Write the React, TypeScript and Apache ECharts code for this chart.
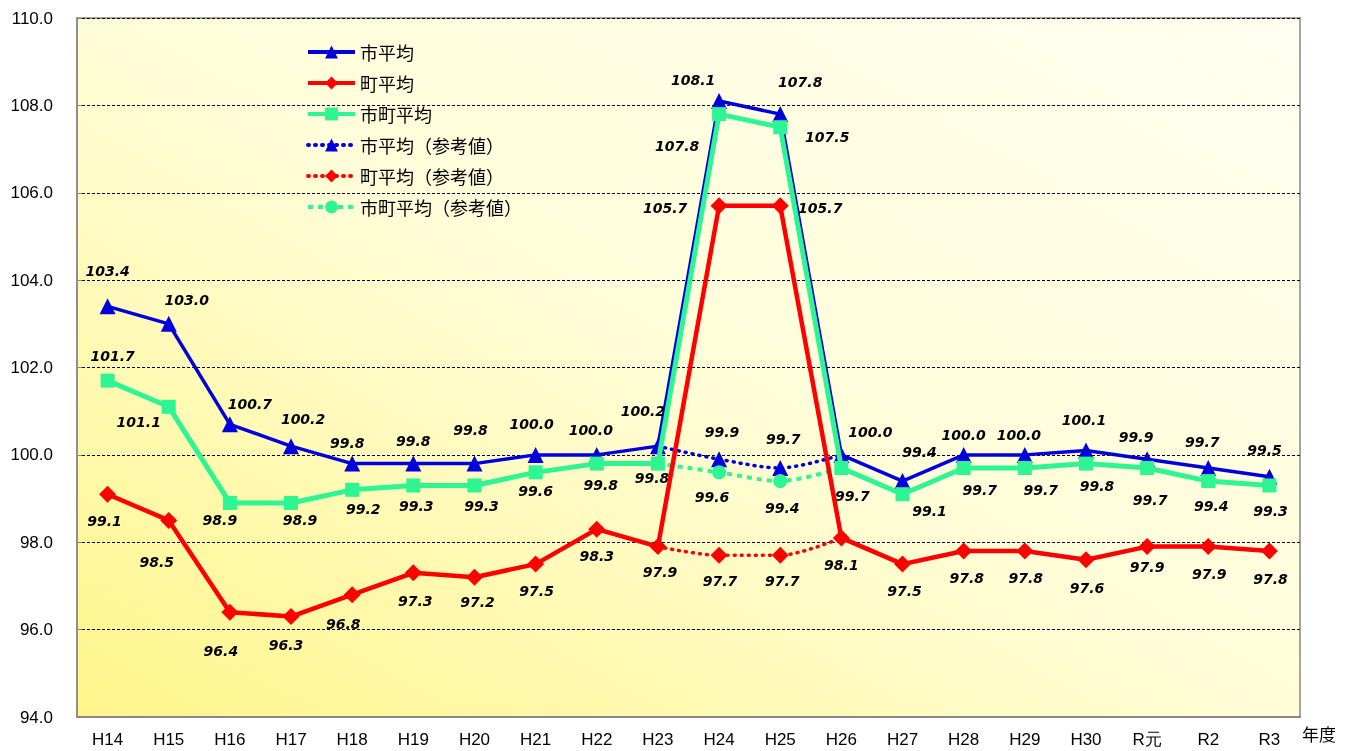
import React, { useEffect, useRef } from "react";
import * as echarts from "echarts";

const categories = ["H14", "H15", "H16", "H17", "H18", "H19", "H20", "H21", "H22", "H23", "H24", "H25", "H26", "H27", "H28", "H29", "H30", "R元", "R2", "R3"];

const cityAvg = [103.4, 103.0, 100.7, 100.2, 99.8, 99.8, 99.8, 100.0, 100.0, 100.2, 108.1, 107.8, 100.0, 99.4, 100.0, 100.0, 100.1, 99.9, 99.7, 99.5];
const townAvg = [99.1, 98.5, 96.4, 96.3, 96.8, 97.3, 97.2, 97.5, 98.3, 97.9, 105.7, 105.7, 98.1, 97.5, 97.8, 97.8, 97.6, 97.9, 97.9, 97.8];
const cityTownAvg = [101.7, 101.1, 98.9, 98.9, 99.2, 99.3, 99.3, 99.6, 99.8, 99.8, 107.8, 107.5, 99.7, 99.1, 99.7, 99.7, 99.8, 99.7, 99.4, 99.3];

const N = null;
const cityRef = [N, N, N, N, N, N, N, N, N, 100.2, 99.9, 99.7, 100.0, N, N, N, N, N, N, N];
const townRef = [N, N, N, N, N, N, N, N, N, 97.9, 97.7, 97.7, 98.1, N, N, N, N, N, N, N];
const cityTownRef = [N, N, N, N, N, N, N, N, N, 99.8, 99.6, 99.4, 99.7, N, N, N, N, N, N, N];
// indices where the reference series only join the main lines (no marker / label)
const refJoinIdx = [9, 12];

const yTicks = { min: 94, max: 110, interval: 2 };

// label offsets (style only)
const cityLabelOffsets = [[0, -35], [18, -24], [20, -20], [12, -27], [-5, -21], [0, -23], [-4, -34], [-4, -31], [-6, -25], [-15, -35], [-26, -21], [20, -32], [29, -23], [17, -29], [0, -20], [-6, -20], [-2, -31], [-11, -22], [-6, -26], [-5, -27]];
const townLabelOffsets = [[-3, 27], [-12, 42], [-9, 39], [-5, 28], [-9, 29], [2, 28], [3, 25], [1, 27], [0, 27], [2, 25], [-54, 2], [40, 2], [0, 27], [2, 27], [3, 27], [1, 27], [1, 28], [0, 20], [1, 27], [1, 28]];
const cityTownLabelOffsets = [[5, -25], [-30, 15], [-10, 17], [9, 17], [11, 19], [3, 21], [7, 21], [0, 19], [4, 21], [-6, 14], [-42, 32], [47, 10], [11, 28], [27, 17], [16, 22], [16, 22], [11, 22], [3, 32], [3, 25], [1, 26]];
const cityRefLabelOffsets: Record<number, number[]> = { 10: [3, -27], 11: [3, -29] };
const townRefLabelOffsets: Record<number, number[]> = { 10: [1, 26], 11: [2, 26] };
const cityTownRefLabelOffsets: Record<number, number[]> = { 10: [-7, 25], 11: [2, 27] };

const BLUE = "#0000DD";
const RED = "#FF0000";
const GREEN = "#2EF593";

const labelFont = {
  show: true,
  position: "inside" as const,
  color: "#000",
  fontFamily: "DejaVu Sans",
  fontWeight: "bold" as const,
  fontStyle: "italic" as const,
  fontSize: 14,
  formatter: (p: any) => Number(p.value).toFixed(1),
};

function mainData(values: number[], offsets: number[][]) {
  return values.map((v, i) => ({ value: v, label: { offset: offsets[i] } }));
}

function refData(values: (number | null)[], offsets: Record<number, number[]>) {
  return values.map((v, i) => {
    if (v === null) return "-";
    if (refJoinIdx.includes(i)) return { value: v, symbol: "none", label: { show: false } };
    return { value: v, label: { offset: offsets[i] } };
  });
}

export default function App() {
  const ref = useRef<HTMLDivElement>(null);
  useEffect(() => {
    if (!ref.current) return;
    const chart = echarts.init(ref.current, undefined, { renderer: "svg" });
    chart.setOption({
      animation: false,
      grid: {
        left: 77,
        top: 18,
        right: 54,
        bottom: 34,
        show: true,
        borderColor: "#888",
        borderWidth: 1.5,
        backgroundColor: new echarts.graphic.LinearGradient(0, 1, 1, 0, [
          { offset: 0, color: "#FFF58A" },
          { offset: 0.5, color: "#FFFDD8" },
          { offset: 1, color: "#FFFFF0" },
        ]),
      },
      legend: {
        orient: "vertical",
        left: 301,
        top: 38,
        itemWidth: 47,
        itemHeight: 16,
        itemGap: 13,
        lineStyle: { width: 4 },
        textStyle: { fontFamily: "Noto Sans CJK JP", fontSize: 18, lineHeight: 18, color: "#000" },
        data: ["市平均", "町平均", "市町平均", "市平均（参考値）", "町平均（参考値）", "市町平均（参考値）"],
      },
      xAxis: {
        type: "category",
        data: categories,
        boundaryGap: true,
        axisLine: { lineStyle: { color: "#888", width: 2 } },
        axisTick: { inside: true, length: 5, lineStyle: { color: "#888" } },
        axisLabel: { color: "#000", fontFamily: "Liberation Sans", fontSize: 17, margin: 14 },
        name: "年度",
        nameLocation: "end",
        nameGap: 2,
        nameTextStyle: { color: "#000", fontFamily: "Noto Sans CJK JP", fontSize: 17, verticalAlign: "top", padding: [8, 0, 0, 0] },
      },
      yAxis: {
        type: "value",
        min: yTicks.min,
        max: yTicks.max,
        interval: yTicks.interval,
        axisLine: { show: true, lineStyle: { color: "#888", width: 1.5 } },
        axisTick: { show: true, inside: true, length: 5, lineStyle: { color: "#888" } },
        axisLabel: { color: "#000", fontFamily: "Liberation Sans", fontSize: 17, margin: 24, formatter: (v: number) => v.toFixed(1) },
        splitLine: { show: true, lineStyle: { color: "#000", width: 1, type: [3, 2] } },
      },
      series: [
        {
          name: "市平均",
          type: "line",
          z: 2,
          data: mainData(cityAvg, cityLabelOffsets),
          symbol: "triangle",
          symbolSize: 16,
          lineStyle: { color: BLUE, width: 3.5 },
          itemStyle: { color: BLUE },
          label: labelFont,
        },
        {
          name: "市町平均",
          type: "line",
          z: 3,
          data: mainData(cityTownAvg, cityTownLabelOffsets),
          symbol: "rect",
          symbolSize: 14,
          lineStyle: { color: GREEN, width: 5 },
          itemStyle: { color: GREEN },
          label: labelFont,
        },
        {
          name: "町平均",
          type: "line",
          z: 4,
          data: mainData(townAvg, townLabelOffsets),
          symbol: "diamond",
          symbolSize: 17,
          lineStyle: { color: RED, width: 4.5 },
          itemStyle: { color: RED },
          label: labelFont,
        },
        {
          name: "市平均（参考値）",
          type: "line",
          z: 1,
          smooth: 0.3,
          data: refData(cityRef, cityRefLabelOffsets),
          symbol: "triangle",
          symbolSize: 16,
          lineStyle: { color: BLUE, width: 3.5, type: [1, 6], cap: "round" },
          itemStyle: { color: BLUE },
          label: labelFont,
        },
        {
          name: "町平均（参考値）",
          type: "line",
          z: 1,
          smooth: 0.3,
          data: refData(townRef, townRefLabelOffsets),
          symbol: "diamond",
          symbolSize: 17,
          lineStyle: { color: RED, width: 3.5, type: [1, 6], cap: "round" },
          itemStyle: { color: RED },
          label: labelFont,
        },
        {
          name: "市町平均（参考値）",
          type: "line",
          z: 1,
          smooth: 0.3,
          data: refData(cityTownRef, cityTownRefLabelOffsets),
          symbol: "circle",
          symbolSize: 14,
          lineStyle: { color: GREEN, width: 4, type: [5, 5] },
          itemStyle: { color: GREEN },
          label: labelFont,
        },
      ],
    });
    return () => chart.dispose();
  }, []);
  return <div ref={ref} style={{ position: "fixed", left: 0, top: 0, width: 1354, height: 751 }} />;
}
